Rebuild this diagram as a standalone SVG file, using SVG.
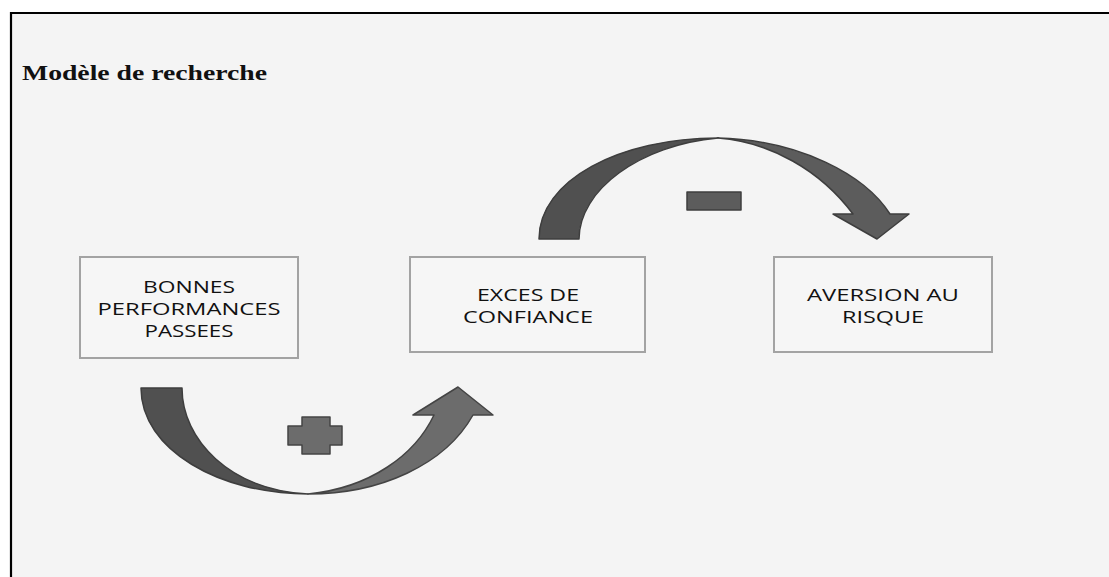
<svg xmlns="http://www.w3.org/2000/svg" width="1109" height="577" viewBox="0 0 1109 577">
<style>
.box{fill:#f6f6f6;stroke:#a3a3a3;stroke-width:2}
.lbl{font-family:"Open Sans","Liberation Sans",sans-serif;font-size:17px;fill:#111;text-anchor:middle}
.arrD{fill:#505050;stroke:#3e3e3e;stroke-width:1.5;stroke-linejoin:round}
.arrM{fill:#5c5c5c;stroke:#3e3e3e;stroke-width:1.5;stroke-linejoin:round}
.arrL{fill:#6c6c6c;stroke:#444;stroke-width:1.5;stroke-linejoin:round}
</style>
<rect x="0" y="0" width="1109" height="577" fill="#ffffff"/>
<rect x="11" y="13" width="1110" height="580" fill="#f4f4f4"/>
<line x1="11" y1="12" x2="11" y2="577" stroke="#000" stroke-width="2.2"/>
<line x1="10" y1="13" x2="1109" y2="13" stroke="#000" stroke-width="2.2"/>
<text x="22" y="80" font-family="'Liberation Serif',serif" font-weight="bold" font-size="20" textLength="245" lengthAdjust="spacingAndGlyphs" fill="#111">Modèle de recherche</text>

<g id="connectors">
  <g id="arrow-plus">
    <path class="arrD" d="M141,388 L182,388 C182,440 230,490 308,494 C220,494 141,450 141,388 Z"/>
    <path class="arrL" d="M308,494 C380,494 445,465 473,415 L493,415 L458,387 L413,415 L434,415 C415,455 370,488 308,494 Z"/>
    <path class="arrL" d="M302,417 H330 V426 H342 V445 H330 V454 H302 V445 H288 V426 H302 Z"/>
  </g>
  <g id="arrow-minus">
    <path class="arrD" d="M539,239 C539,180 620,138 718,138 C640,145 579,190 579,239 Z"/>
    <path class="arrM" d="M718,138 C800,140 865,175 890,214 L909,214 L877,239 L833,214 L853,214 C820,170 770,142 718,138 Z"/>
    <rect class="arrM" x="687" y="192" width="54" height="18"/>
  </g>
</g>

<g id="node-bonnes">
  <rect class="box" x="80" y="257" width="218" height="101"/>
  <text class="lbl" x="189" y="292.7" textLength="92" lengthAdjust="spacingAndGlyphs">BONNES</text>
  <text class="lbl" x="189" y="315" textLength="183" lengthAdjust="spacingAndGlyphs">PERFORMANCES</text>
  <text class="lbl" x="189" y="336.7" textLength="89" lengthAdjust="spacingAndGlyphs">PASSEES</text>
</g>
<g id="node-exces">
  <rect class="box" x="410" y="257" width="235" height="95"/>
  <text class="lbl" x="528" y="300.7" textLength="102" lengthAdjust="spacingAndGlyphs">EXCES DE</text>
  <text class="lbl" x="528" y="323" textLength="130" lengthAdjust="spacingAndGlyphs">CONFIANCE</text>
</g>
<g id="node-aversion">
  <rect class="box" x="774" y="257" width="218" height="95"/>
  <text class="lbl" x="883" y="300.7" textLength="152" lengthAdjust="spacingAndGlyphs">AVERSION AU</text>
  <text class="lbl" x="883" y="323" textLength="82" lengthAdjust="spacingAndGlyphs">RISQUE</text>
</g>
</svg>
